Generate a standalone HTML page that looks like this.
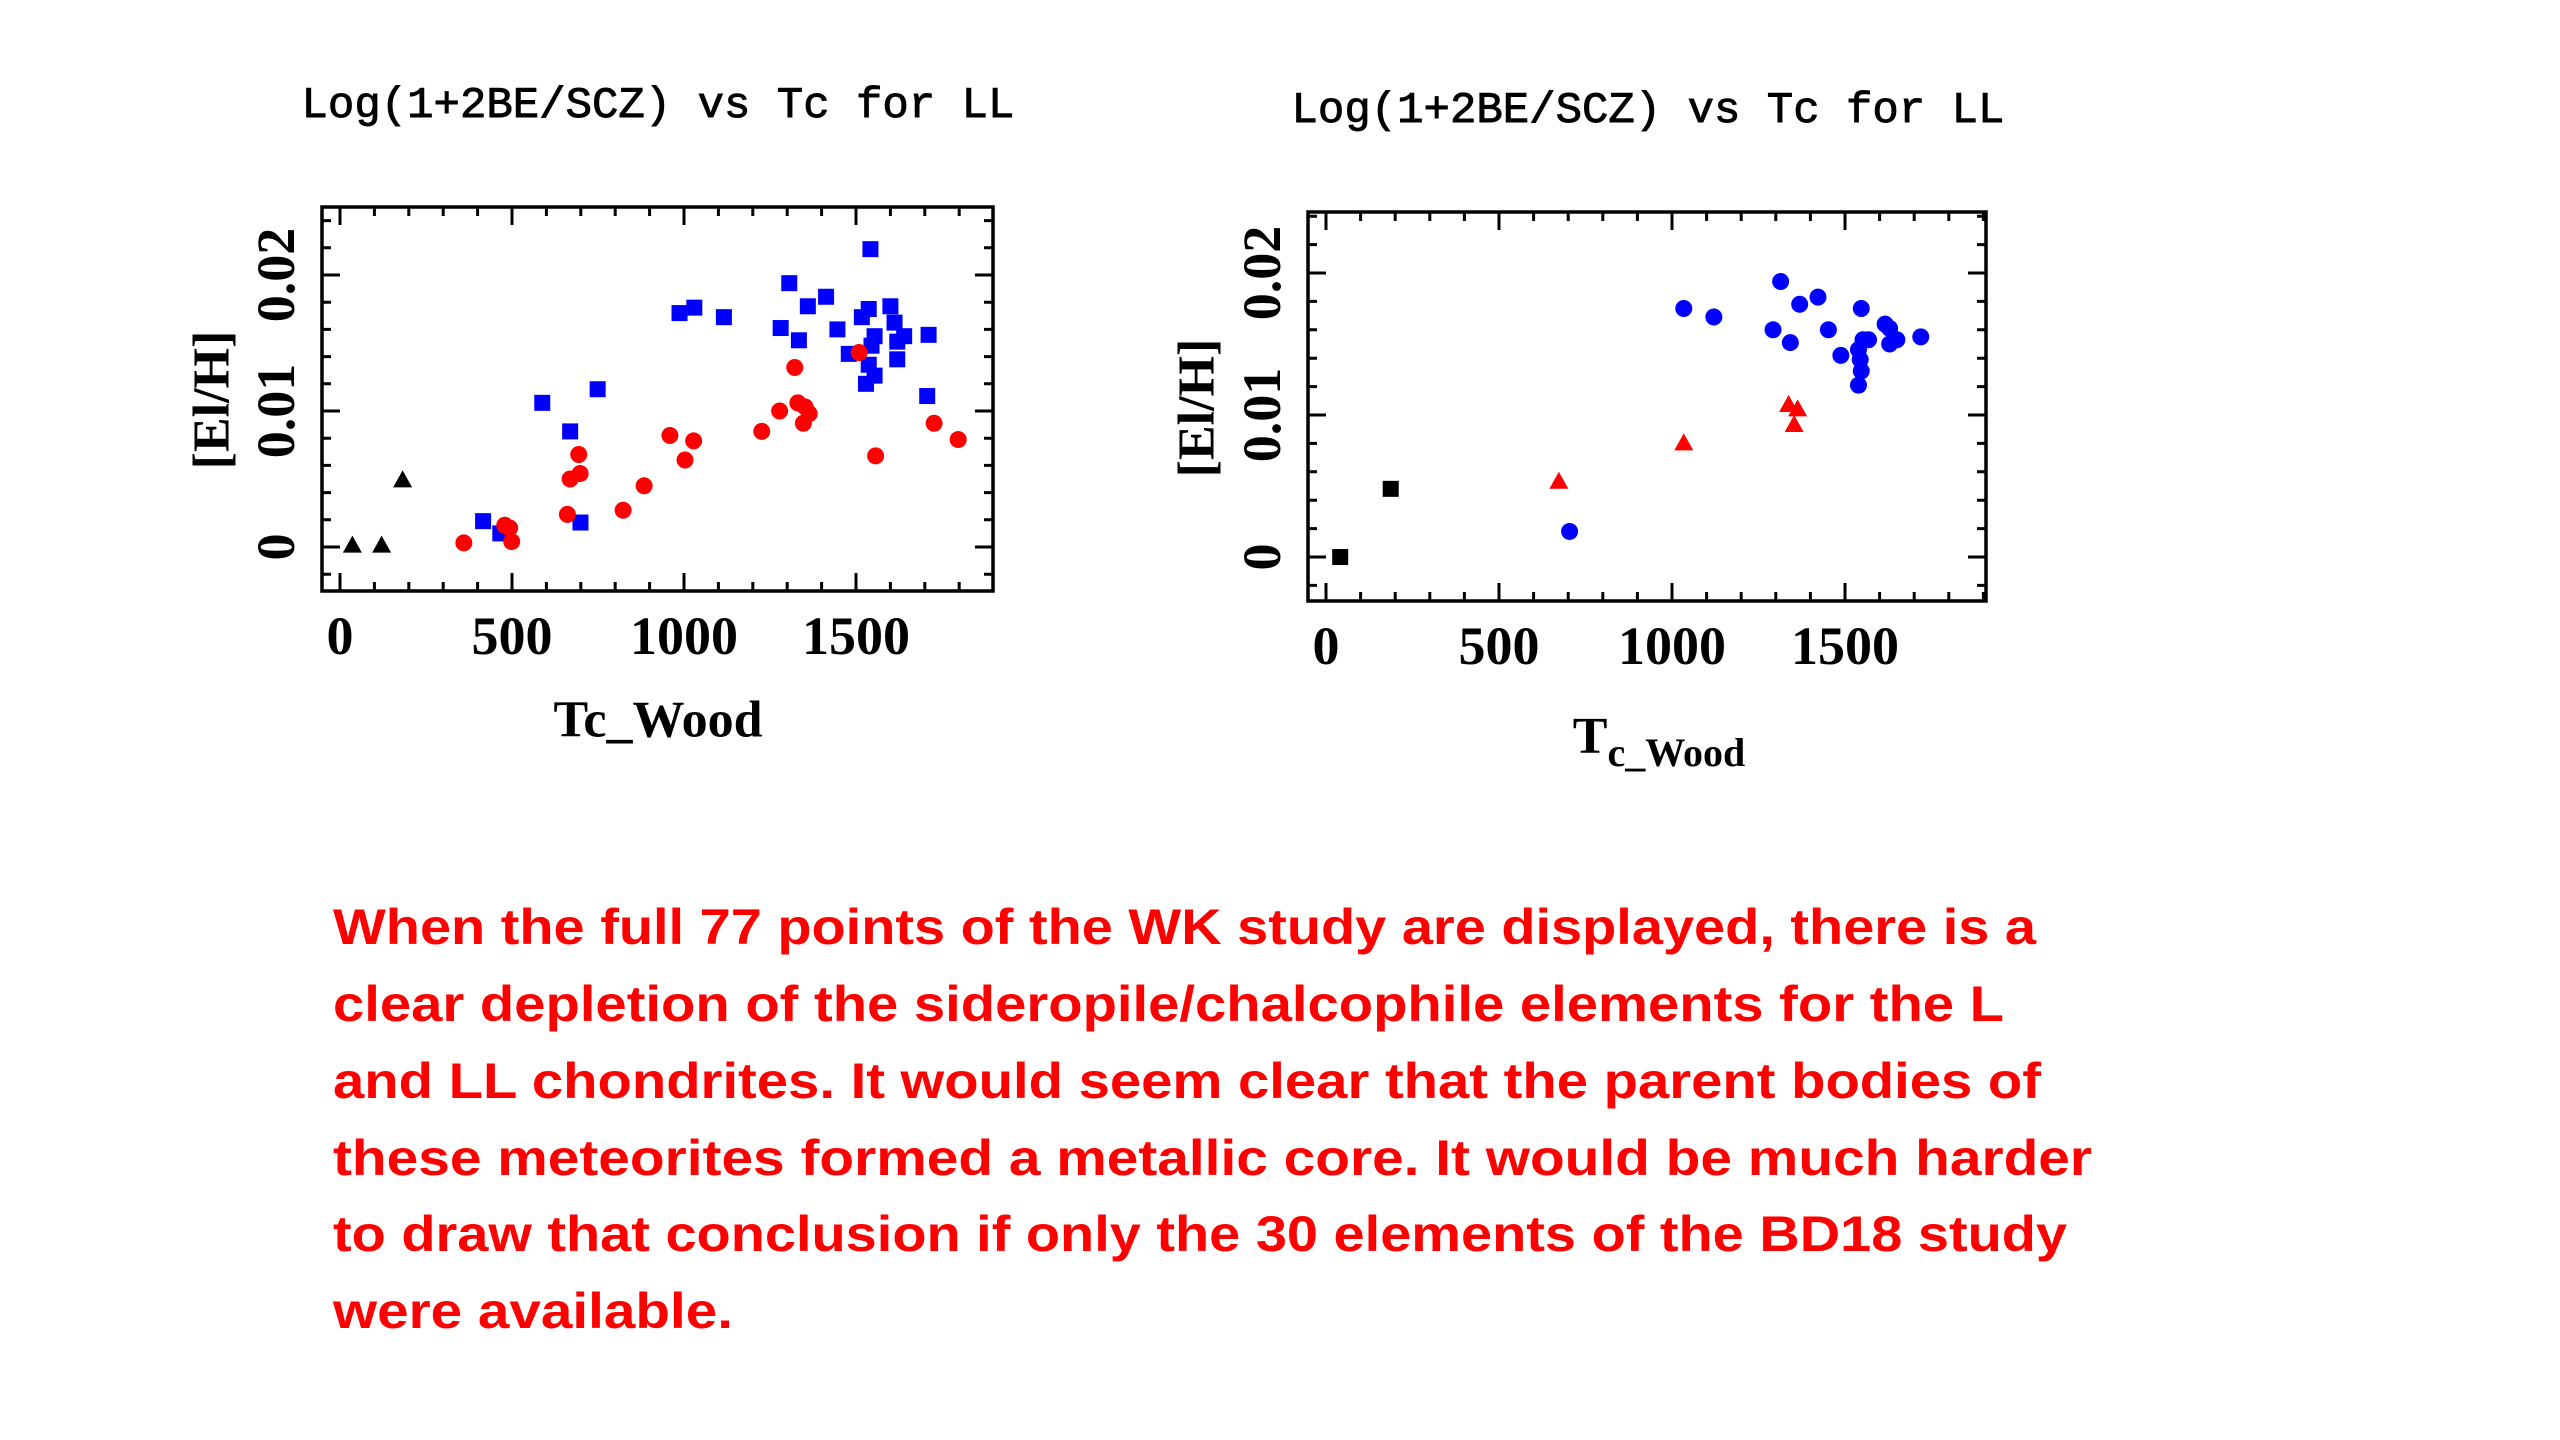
<!DOCTYPE html>
<html><head><meta charset="utf-8"><style>
html,body{margin:0;padding:0;background:#fff;}
svg{display:block;}
.tl{font-family:"Liberation Mono",monospace;font-size:44px;fill:#000;stroke:#000;stroke-width:0.9px;}
.ax{font-family:"Liberation Serif",serif;font-size:54px;fill:#000;font-weight:600;}
.axt{font-family:"Liberation Serif",serif;font-size:52px;fill:#000;font-weight:600;}
.body{font-family:"Liberation Sans",sans-serif;font-weight:bold;font-size:50px;fill:#ff0000;}
</style></head><body>
<svg id="page" width="2560" height="1440" viewBox="0 0 2560 1440" xmlns="http://www.w3.org/2000/svg">
<rect width="2560" height="1440" fill="#fff"/>
<g id="c1"></g>
<g id="c2"></g>
<g>
<text class="body" x="333" y="927" dominant-baseline="central" textLength="1703" lengthAdjust="spacingAndGlyphs">When the full 77 points of the WK study are displayed, there is a</text>
<text class="body" x="333" y="1004" dominant-baseline="central" textLength="1671" lengthAdjust="spacingAndGlyphs">clear depletion of the sideropile/chalcophile elements for the L</text>
<text class="body" x="333" y="1081" dominant-baseline="central" textLength="1708" lengthAdjust="spacingAndGlyphs">and LL chondrites.  It would seem clear that the parent bodies of</text>
<text class="body" x="333" y="1158" dominant-baseline="central" textLength="1759" lengthAdjust="spacingAndGlyphs">these meteorites formed a metallic core.  It would be much harder</text>
<text class="body" x="333" y="1234" dominant-baseline="central" textLength="1734" lengthAdjust="spacingAndGlyphs">to draw that conclusion if only the 30 elements of the BD18 study</text>
<text class="body" x="333" y="1311" dominant-baseline="central" textLength="400" lengthAdjust="spacingAndGlyphs">were available.</text>
</g>
</svg>
<script>
// Left chart data
const c1BlueX=[416,466,588,669,699,749,987,1030,1116,1281,1306,1334,1360,1413,1446,1479,1517,1537,1542,1529,1537,1545,1554,1554,1600,1612,1620,1620,1640,1711,1707];
const c1BlueY=[0.0019,0.0010,0.0106,0.0085,0.0018,0.0116,0.0172,0.0176,0.0169,0.0161,0.0194,0.0152,0.0177,0.0184,0.0160,0.0142,0.0169,0.0175,0.0219,0.0120,0.0134,0.0148,0.0155,0.0126,0.0177,0.0165,0.0151,0.0138,0.0155,0.0156,0.0111];
const c1RedX=[360,479,493,499,661,669,698,694,823,884,959,1003,1028,1226,1278,1322,1331,1352,1347,1364,1509,1557,1727,1797];
const c1RedY=[0.0003,0.0016,0.0014,0.0004,0.0024,0.0050,0.0054,0.0068,0.0027,0.0045,0.0082,0.0064,0.0078,0.0085,0.0100,0.0132,0.0106,0.0103,0.0091,0.0098,0.0143,0.0067,0.0091,0.0079];
const c1BlackX=[36,121,182];
const c1BlackY=[0.0001,0.0001,0.0049];
// Right chart data
const c2BlueX=[704,1034,1121,1292,1314,1342,1369,1422,1452,1488,1539,1544,1547,1547,1539,1552,1568,1616,1629,1629,1650,1719];
const c2BlueY=[0.0018,0.0175,0.0169,0.0160,0.0194,0.0151,0.0178,0.0183,0.0160,0.0142,0.0146,0.0139,0.0175,0.0131,0.0121,0.0153,0.0153,0.0164,0.0161,0.0150,0.0153,0.0155];
const c2RedX=[673,1034,1337,1363,1353];
const c2RedY=[0.0053,0.0080,0.0107,0.0104,0.0093];
const c2BlackX=[41,187];
const c2BlackY=[0.0000,0.0048];
const xTicks=[0,500,1000,1500];
const yTicks=[0,0.01,0.02];
const yTickLabels=["0","0.01","0.02"];

const NS="http://www.w3.org/2000/svg";
function mk(parent,tag,attrs,text){const e=document.createElementNS(NS,tag);for(const k in attrs)e.setAttribute(k,attrs[k]);if(text!==undefined)e.textContent=text;parent.appendChild(e);return e;}

function chart(g,cfg){
  const sx=v=>cfg.x0+v*cfg.kx, sy=v=>cfg.y0-v*cfg.ky;
  const L=cfg.L,R=cfg.R,T=cfg.T,B=cfg.B;
  const t=mk(g,'text',{class:'tl',x:cfg.titleX,y:cfg.titleY,'text-anchor':'middle','dominant-baseline':'central'},'Log(1+2BE/SCZ) vs Tc for LL');
  
  
  const fr=mk(g,'rect',{x:L,y:T,width:R-L,height:B-T,fill:'none',stroke:'#000','stroke-width':3.5});
  
  
  let d='';
  for(let v=0;v<=1900;v+=100){const x=sx(v);if(x<L||x>R)continue;const len=v%500===0?18:9;d+=`M${x},${B}v${-len}M${x},${T}v${len}`;}
  for(let i=-2;i<=12;i++){const v=i*0.002;const y=sy(v);if(y<T||y>B)continue;const len=(i%5===0)?18:9;d+=`M${L},${y}h${len}M${R},${y}h${-len}`;}
  const tk=mk(g,'path',{d:d,stroke:'#000','stroke-width':3,fill:'none'});
  
  
  xTicks.forEach(v=>{const e=mk(g,'text',{class:'ax',x:sx(v),y:B+45,'text-anchor':'middle','dominant-baseline':'central'},String(v));
    
    });
  yTicks.forEach((v,i)=>{const x=L-46,y=sy(v);const e=mk(g,'text',{class:'ax',x:x,y:y,'text-anchor':'middle','dominant-baseline':'central',transform:`rotate(-90 ${x} ${y})`},yTickLabels[i]);
    
    });
  const yl=mk(g,'text',{class:'axt',x:cfg.ylX,y:cfg.ylY,'text-anchor':'middle','dominant-baseline':'central',transform:`rotate(-90 ${cfg.ylX} ${cfg.ylY})`},'[El/H]');
  
  
  const xl=mk(g,'text',{class:'axt',x:cfg.xlX,y:cfg.xlY,'text-anchor':'middle','dominant-baseline':'central'});
  
  
  if(cfg.sub){mk(xl,'tspan',{},'T');mk(xl,'tspan',{dy:16,'font-size':'40'},'c_Wood');}else xl.textContent='Tc_Wood';
  cfg.series.forEach(s=>{
    const sg=mk(g,'g',{fill:s.color});
    
    
    s.xs.forEach((xv,i)=>{const x=sx(xv),y=sy(s.ys[i]);let e;
      if(s.shape==='sq')e=mk(sg,'rect',{x:x-8,y:y-8,width:16,height:16});
      else if(s.shape==='ci')e=mk(sg,'circle',{cx:x,cy:y,r:8.5});
      else e=mk(sg,'polygon',{points:`${x},${y-10} ${x-9.5},${y+7} ${x+9.5},${y+7}`});
      
      });
  });
}
chart(document.getElementById('c1'),{x0:340,kx:0.344,y0:547,ky:13600,L:322,R:993,T:207,B:591,
  titleX:658,titleY:106,ylX:212,ylY:400,xlX:658,xlY:720,sub:false,
  series:[{name:'blue-squares',color:'#0000ff',shape:'sq',xs:c1BlueX,ys:c1BlueY},
          {name:'red-circles',color:'#ff0000',shape:'ci',xs:c1RedX,ys:c1RedY},
          {name:'black-triangles',color:'#000',shape:'tr',xs:c1BlackX,ys:c1BlackY}]});
chart(document.getElementById('c2'),{x0:1326,kx:0.346,y0:557,ky:14200,L:1308,R:1986,T:212,B:601,
  titleX:1648,titleY:111,ylX:1197,ylY:408,xlX:1659,xlY:736,sub:true,
  series:[{name:'blue-circles',color:'#0000ff',shape:'ci',xs:c2BlueX,ys:c2BlueY},
          {name:'red-triangles',color:'#ff0000',shape:'tr',xs:c2RedX,ys:c2RedY},
          {name:'black-squares',color:'#000',shape:'sq',xs:c2BlackX,ys:c2BlackY}]});
</script>
</body></html>
